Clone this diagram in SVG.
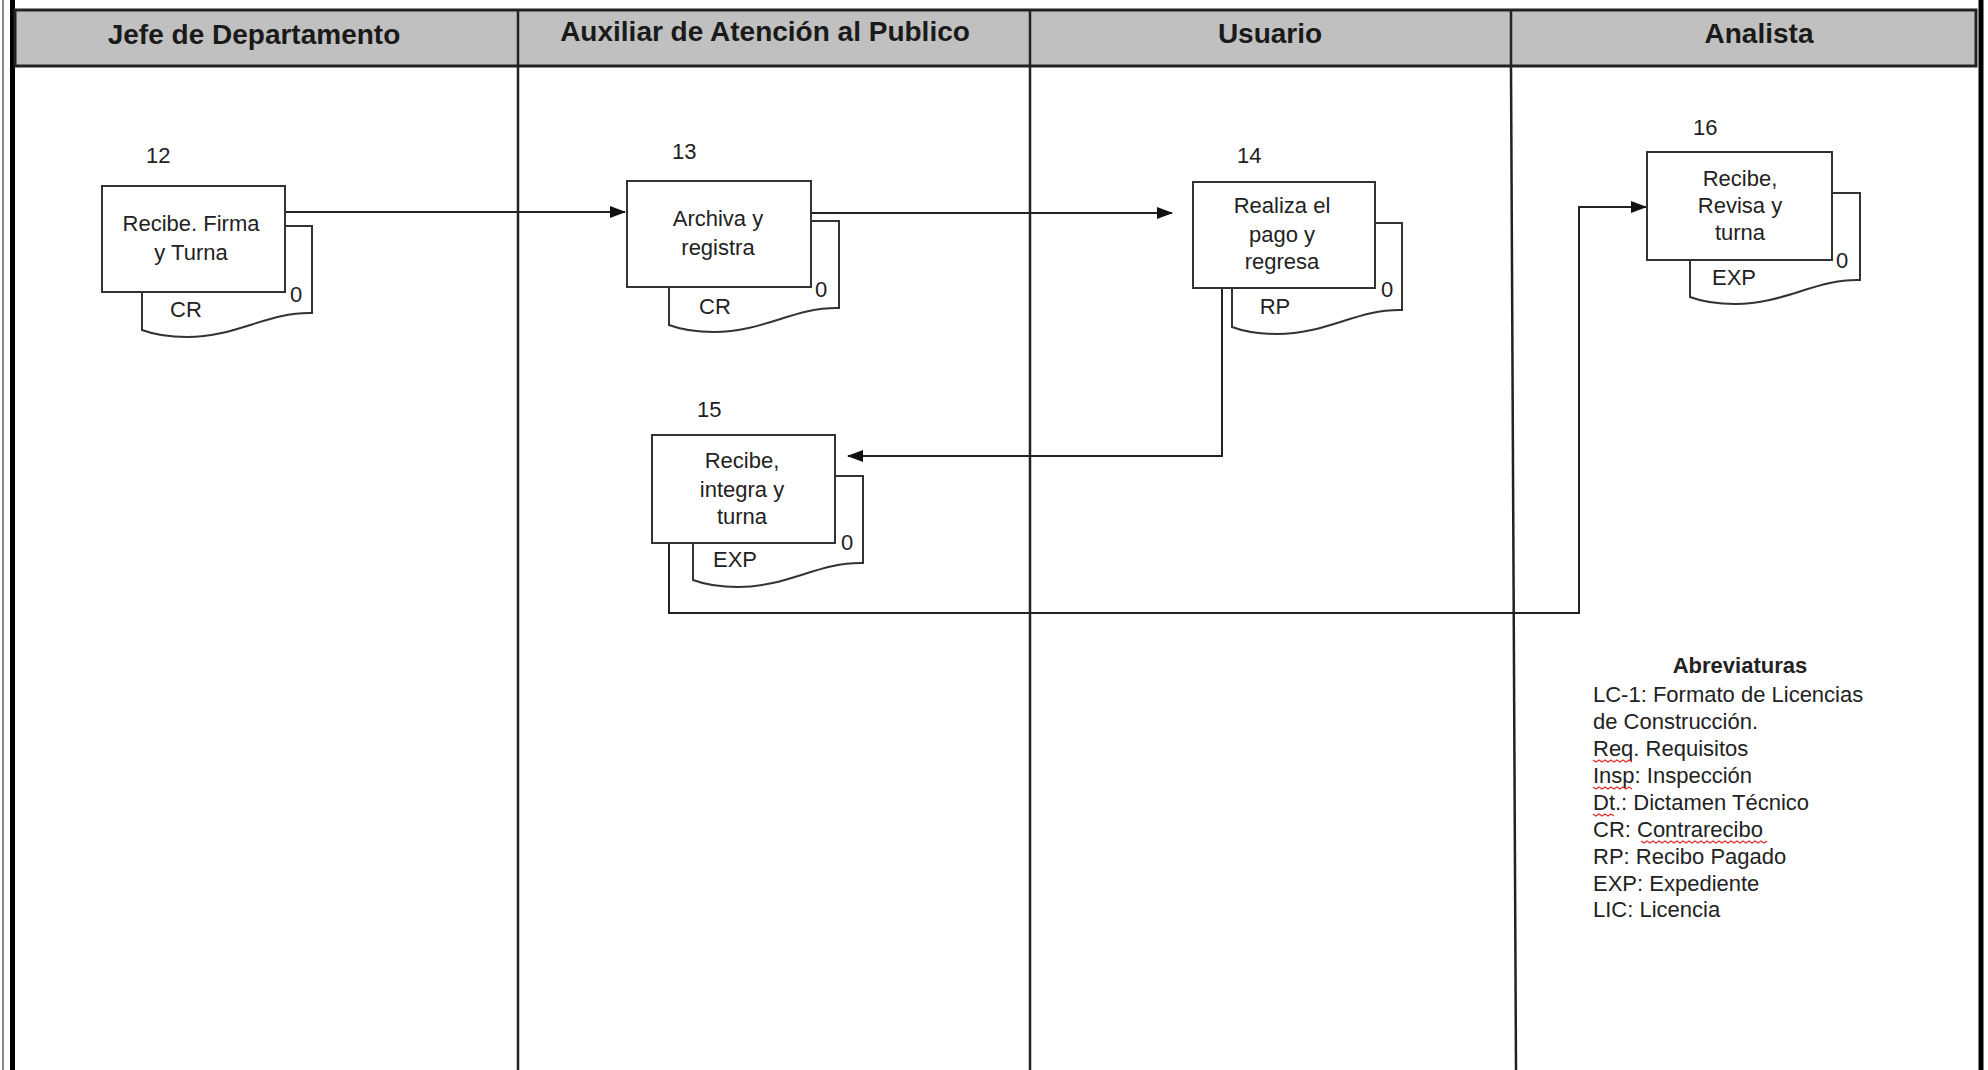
<svg xmlns="http://www.w3.org/2000/svg" width="1988" height="1070" viewBox="0 0 1988 1070">
<style>
.hdr{font-family:"Liberation Sans",Arial,sans-serif;font-weight:bold;font-size:28px;fill:#1a1a1a;text-anchor:middle}
.t{font-family:"Liberation Sans",Arial,sans-serif;font-size:22px;fill:#222;text-anchor:middle}
.n{font-family:"Liberation Sans",Arial,sans-serif;font-size:22px;fill:#222}
.ab{font-family:"Liberation Sans",Arial,sans-serif;font-size:22px;fill:#222}
.box{fill:#fff;stroke:#333;stroke-width:2}
.lane{stroke:#222;stroke-width:2.5;fill:none}
.conn{stroke:#222;stroke-width:2;fill:none}
.sq{stroke:#e03030;stroke-width:1.3;fill:none}
</style>
<defs>
<path id="doc" d="M0,0 H170 V87 C125,86 95,111 45,111 C25,111 8,107 0,104 Z" class="box"/>
<marker id="arr" markerWidth="16" markerHeight="12" refX="15" refY="6" orient="auto" markerUnits="userSpaceOnUse">
<path d="M0,0 L16,6 L0,12 Z" fill="#111"/>
</marker>
</defs>
<rect width="1988" height="1070" fill="#fff"/>
<g id="frame">
<line x1="3" y1="0" x2="3" y2="1070" stroke="#888" stroke-width="2"/>
<line x1="12.5" y1="0" x2="12.5" y2="1070" stroke="#000" stroke-width="5"/>
<line x1="1981" y1="0" x2="1981" y2="1070" stroke="#000" stroke-width="5"/>
<rect x="15" y="10" width="1961" height="56" fill="#c0c0c0" stroke="#222" stroke-width="3"/>
<line class="lane" x1="518" y1="10" x2="518" y2="1070"/>
<line class="lane" x1="1030" y1="10" x2="1030" y2="1070"/>
<line class="lane" x1="1511" y1="10" x2="1511" y2="66"/>
<line class="lane" x1="1511" y1="66" x2="1516" y2="1070"/>
<text class="hdr" x="254" y="44">Jefe de Departamento</text>
<text class="hdr" x="765" y="41">Auxiliar de Atención al Publico</text>
<text class="hdr" x="1270" y="43">Usuario</text>
<text class="hdr" x="1759" y="43">Analista</text>
</g>
<g id="connectors">
<path class="conn" d="M285,212 H625" marker-end="url(#arr)"/>
<path class="conn" d="M811,213 H1172" marker-end="url(#arr)"/>
<path class="conn" d="M1222,288 V456 H848" marker-end="url(#arr)"/>
<path class="conn" d="M669,543 V613 H1579 V207 H1646" marker-end="url(#arr)"/>
</g>
<g id="node12">
<use href="#doc" x="142" y="226"/>
<rect class="box" x="102" y="186" width="183" height="106"/>
<text class="n" x="146" y="163">12</text>
<text class="t" x="191" y="231">Recibe. Firma</text>
<text class="t" x="191" y="260">y Turna</text>
<text class="n" x="290" y="302">0</text>
<text class="t" x="186" y="317">CR</text>
</g>
<g id="node13">
<use href="#doc" x="669" y="221"/>
<rect class="box" x="627" y="181" width="184" height="106"/>
<text class="n" x="672" y="159">13</text>
<text class="t" x="718" y="226">Archiva y</text>
<text class="t" x="718" y="255">registra</text>
<text class="n" x="815" y="297">0</text>
<text class="t" x="715" y="314">CR</text>
</g>
<g id="node14">
<use href="#doc" x="1232" y="223"/>
<rect class="box" x="1193" y="182" width="182" height="106"/>
<text class="n" x="1237" y="163">14</text>
<text class="t" x="1282" y="213">Realiza el</text>
<text class="t" x="1282" y="242">pago y</text>
<text class="t" x="1282" y="269">regresa</text>
<text class="n" x="1381" y="297">0</text>
<text class="t" x="1275" y="314">RP</text>
</g>
<g id="node15">
<use href="#doc" x="693" y="476"/>
<rect class="box" x="652" y="435" width="183" height="108"/>
<text class="n" x="697" y="417">15</text>
<text class="t" x="742" y="468">Recibe,</text>
<text class="t" x="742" y="497">integra y</text>
<text class="t" x="742" y="524">turna</text>
<text class="n" x="841" y="550">0</text>
<text class="t" x="735" y="567">EXP</text>
</g>
<g id="node16">
<use href="#doc" x="1690" y="193"/>
<rect class="box" x="1647" y="152" width="185" height="108"/>
<text class="n" x="1693" y="135">16</text>
<text class="t" x="1740" y="186">Recibe,</text>
<text class="t" x="1740" y="213">Revisa y</text>
<text class="t" x="1740" y="240">turna</text>
<text class="n" x="1836" y="268">0</text>
<text class="t" x="1734" y="285">EXP</text>
</g>
<g id="abreviaturas">
<text class="ab" x="1740" y="673" text-anchor="middle" font-weight="bold">Abreviaturas</text>
<text class="ab" x="1593" y="702">LC-1: Formato de Licencias</text>
<text class="ab" x="1593" y="729">de Construcción.</text>
<text class="ab" x="1593" y="756">Req. Requisitos</text>
<text class="ab" x="1593" y="783">Insp: Inspección</text>
<text class="ab" x="1593" y="810">Dt.: Dictamen Técnico</text>
<text class="ab" x="1593" y="837">CR: Contrarecibo</text>
<text class="ab" x="1593" y="864">RP: Recibo Pagado</text>
<text class="ab" x="1593" y="891">EXP: Expediente</text>
<text class="ab" x="1593" y="917">LIC: Licencia</text>
<path class="sq" d="M1593,760 l3,2 l3,-2 l3,2 l3,-2 l3,2 l3,-2 l3,2 l3,-2 l3,2 l3,-2 l3,2 l3,-2 l3,2"/>
<path class="sq" d="M1593,787 l3,2 l3,-2 l3,2 l3,-2 l3,2 l3,-2 l3,2 l3,-2 l3,2 l3,-2 l3,2 l3,-2 l3,2"/>
<path class="sq" d="M1593,814 l3,2 l3,-2 l3,2 l3,-2 l3,2 l3,-2 l3,2"/>
<path class="sq" d="M1641,841 l3,2 l3,-2 l3,2 l3,-2 l3,2 l3,-2 l3,2 l3,-2 l3,2 l3,-2 l3,2 l3,-2 l3,2 l3,-2 l3,2 l3,-2 l3,2 l3,-2 l3,2 l3,-2 l3,2 l3,-2 l3,2 l3,-2 l3,2 l3,-2 l3,2 l3,-2 l3,2 l3,-2 l3,2 l3,-2 l3,2 l3,-2 l3,2 l3,-2 l3,2 l3,-2 l3,2 l3,-2 l3,2 l3,-2"/>
</g>
</svg>
